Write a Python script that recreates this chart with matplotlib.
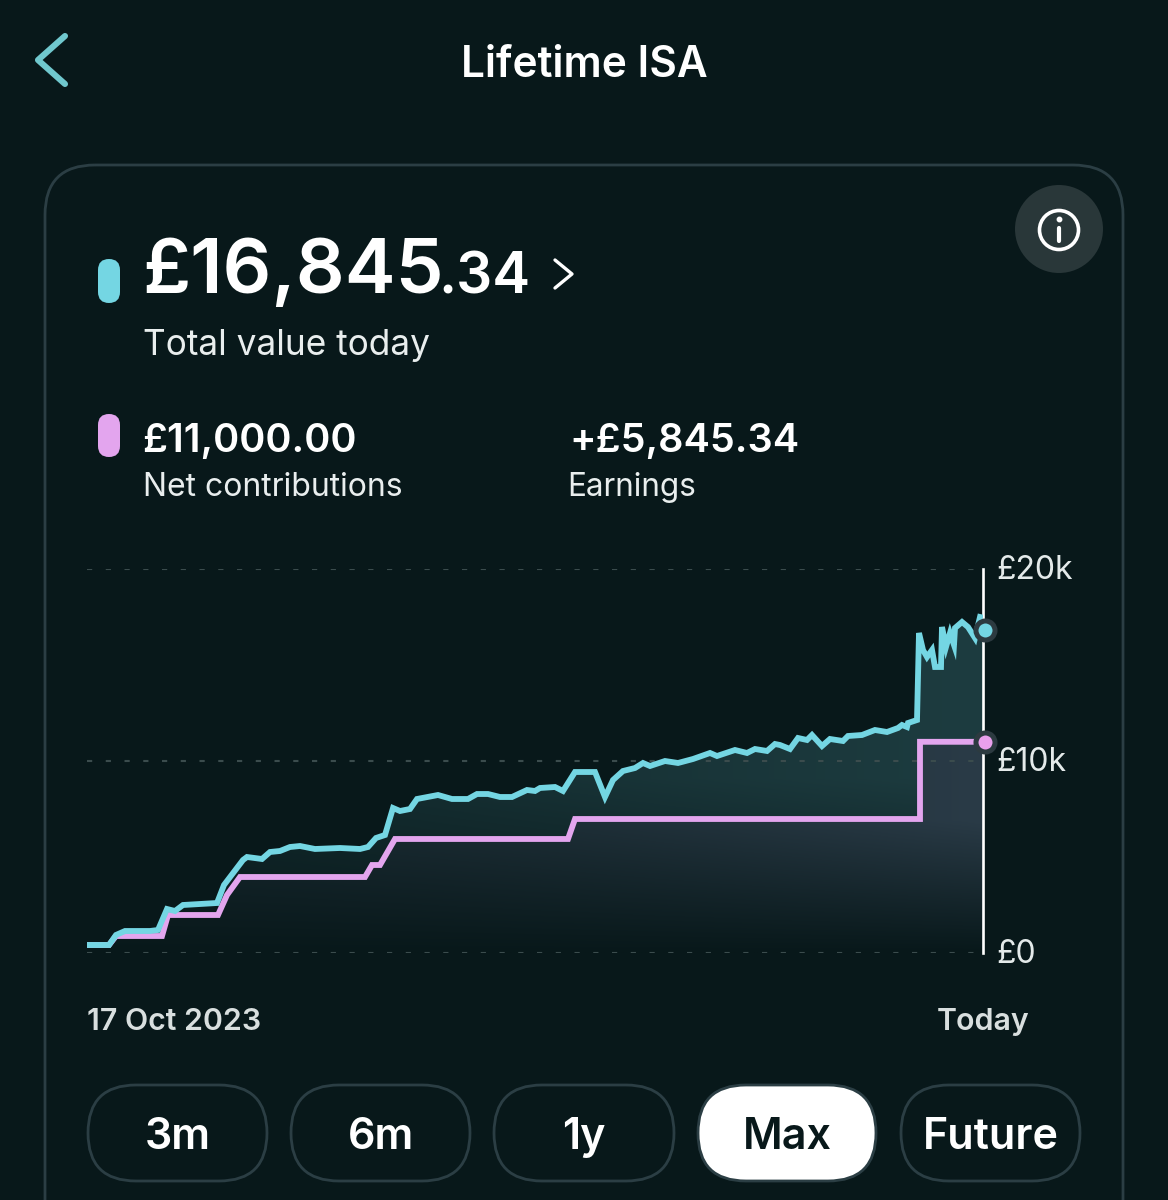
import matplotlib
matplotlib.use("Agg")
import matplotlib.pyplot as plt
from matplotlib.patches import FancyBboxPatch, Circle, Polygon
from matplotlib.transforms import ScaledTranslation
import numpy as np

plt.rcParams['font.family'] = ['Inter', 'DejaVu Sans']

BG = '#08181a'
TEAL = '#74d6e3'
PINK = '#e3a5ee'
W, H = 1168, 1200

# chart data, x is position along the time axis (0 = 17 Oct 2023, 896 = today)
total_x = [0, 22, 29, 38, 63, 71, 80, 88, 96, 113,
           130, 137, 156, 160, 175, 183, 193, 203, 213, 228,
           253, 273, 281, 289, 298, 306, 313, 323, 330, 351,
           365, 381, 390, 401, 413, 425, 440, 448, 453, 468,
           476, 488, 508, 518, 526, 536, 548, 556, 563, 578,
           591, 606, 623, 630, 648, 660, 668, 680, 688, 693,
           703, 711, 720, 725, 735, 743, 756, 761, 775, 788,
           800, 811, 815, 820, 821, 830, 832, 836, 840, 845,
           848, 854, 855, 859, 863, 867, 868, 875, 881, 888, 893]
total_val = [417, 417, 938, 1146, 1146, 1198, 2292, 2187, 2500, 2552,
             2604, 3542, 4844, 5000, 4896, 5260, 5313, 5521, 5573, 5417,
             5469, 5417, 5521, 5990, 6146, 7552, 7396, 7500, 8021, 8229,
             8021, 8021, 8281, 8281, 8125, 8125, 8490, 8438, 8594, 8646,
             8438, 9427, 9427, 8125, 9010, 9479, 9635, 9896, 9740, 10000,
             9896, 10104, 10417, 10260, 10573, 10417, 10625, 10521, 10885, 10833,
             10625, 11198, 11094, 11354, 10781, 11146, 11042, 11302, 11354, 11615,
             11510, 11719, 11875, 11771, 11979, 12135, 16667, 15781, 15417, 15781,
             14896, 14896, 16979, 15937, 16667, 16042, 16927, 17240, 16979, 16406, 17500]
contrib_x = [0, 22, 29, 75, 81, 131, 140, 153, 278, 285, 293, 308, 481, 488, 833, 833, 888]
contrib_val = [417, 417, 885, 885, 1979, 1979, 3021, 3958, 3958, 4583, 4583, 5938, 5938, 6979, 6979, 11000, 11000]

y_ticks = [0, 10000, 20000]
y_tick_labels = ['£0', '£10k', '£20k']
x_ticks = [0, 896]
x_tick_labels = ['17 Oct 2023', 'Today']
range_labels = ['3m', '6m', '1y', 'Max', 'Future']
range_left = [88, 291, 494, 698, 901]
range_right = [267, 470, 674, 876, 1080]
total_now = 16845.34
contrib_now = 11000.0

fig = plt.figure(figsize=(W / 100, H / 100), dpi=100, facecolor=BG)

# UI layer in pixel coordinates
ui = fig.add_axes([0, 0, 1, 1])
ui.set_xlim(0, W)
ui.set_ylim(H, 0)
ui.axis('off')


def txt(x, y, s, size, weight='normal', color='white', ha='left', va='baseline'):
    ui.text(x, y, s, fontsize=size, fontweight=weight, color=color, ha=ha, va=va)


def pill(x0, y0, x1, y1, r, fc, ec='none', lw=0):
    ui.add_patch(FancyBboxPatch((x0 + r, y0 + r), x1 - x0 - 2 * r, y1 - y0 - 2 * r,
                                boxstyle=f'round,pad={r},rounding_size={r}',
                                fc=fc, ec=ec, lw=lw, clip_on=False))


# card
pill(45, 165, 1123, 1300, 50, 'none', '#2b3e44', 2)

# header
ui.plot([65, 38, 65], [36, 60, 84], color='#70c8ce', lw=4.4, solid_capstyle='round', solid_joinstyle='round')
txt(584, 77, 'Lifetime ISA', 30.5, 'semibold', ha='center')

# info button
ui.add_patch(Circle((1059, 229), 44, fc='#293739', ec='none'))
ui.add_patch(Circle((1059, 230), 19.5, fc='none', ec='white', lw=2.6))
ui.plot([1059, 1059], [228, 241], color='white', lw=3, solid_capstyle='round')
ui.plot([1059], [219], 'o', color='white', ms=3.2)

# headline numbers
pill(98, 259, 120, 303, 11, TEAL)
txt(142, 293, '£16,845', 55, 'semibold')
txt(438, 293, '.34', 41, 'semibold')
ui.plot([555, 572, 555], [260, 274, 288], color='white', lw=2.4, solid_capstyle='round', solid_joinstyle='round')
txt(143, 355, 'Total value today', 25.4, color='#e9eeee')

pill(98, 414, 120, 457, 11, PINK)
txt(142, 452, '£11,000.00', 28.5, 'semibold')
txt(143, 496, 'Net contributions', 23, color='#e9eeee')
txt(569, 452, '+£5,845.34', 28.5, 'semibold')
txt(567, 496, 'Earnings', 22.7, color='#e9eeee')

# range buttons
for lab, x0, x1 in zip(range_labels, range_left, range_right):
    active = lab == 'Max'
    pill(x0, 1085, x1, 1181, 48, 'white' if active else 'none', '#2b3e44', 2)
    txt((x0 + x1) / 2, 1149, lab, 31, 'semibold', color=BG if active else 'white', ha='center')

# chart
ax = fig.add_axes([87 / W, (H - 953) / H, 896 / W, 384 / H])
ax.patch.set_alpha(0)
for side in ['top', 'left', 'bottom']:
    ax.spines[side].set_visible(False)
ax.spines['right'].set_color('white')
ax.spines['right'].set_linewidth(1.9)

bg_rgb = np.array(matplotlib.colors.to_rgb(BG))
gy, gx = np.mgrid[1:0:300j, 0:1:300j]


def gradient(color, a):
    c = np.array(matplotlib.colors.to_rgb(color))
    return np.clip(bg_rgb + (c - bg_rgb) * a[..., None], 0, 1)


up_poly = Polygon(list(zip(total_x, total_val)) + [(896, total_val[-1]), (896, 0), (0, 0)],
                  transform=ax.transData)
low_poly = Polygon(list(zip(contrib_x, contrib_val)) + [(896, contrib_val[-1]), (896, 0), (0, 0)],
                   transform=ax.transData)
upper = ax.imshow(gradient('#1d3c40', (0.4 + 0.6 * gx) * np.clip(gy * 2.2, 0, 1)),
                  extent=[0, 896, 0, 20000], aspect='auto', zorder=1)
upper.set_clip_path(up_poly)
lower = ax.imshow(gradient('#2a3b47', (0.42 + 0.58 * gx ** 1.5) * np.clip(gy * 2.9, 0, 1)),
                  extent=[0, 896, 0, 20000], aspect='auto', zorder=1.1)
lower.set_clip_path(low_poly)
ax.set_xlim(0, 896)
ax.set_ylim(0, 20000)

ax.yaxis.tick_right()
ax.set_yticks(y_ticks, y_tick_labels)
ax.set_xticks(x_ticks, x_tick_labels)
ax.tick_params(axis='y', length=0, pad=9.5, labelsize=23, labelcolor='#e4eaea')
ax.tick_params(axis='x', length=0, pad=39.5, labelsize=21.8, labelcolor='#d9dfdf')
for lab in ax.get_xticklabels():
    lab.set_fontweight('semibold')
ax.get_xticklabels()[0].set_ha('left')
ax.get_xticklabels()[1].set_ha('center')
up_shift = ScaledTranslation(0, 2 / 100, fig.dpi_scale_trans)
for lab in ax.get_yticklabels():
    lab.set_transform(lab.get_transform() + up_shift)
ax.grid(axis='y', color='#3b4c4d', lw=1.5, ls=(0, (2.5, 6.5)), zorder=1.5)
ax.set_axisbelow(False)

ax.plot(contrib_x, contrib_val, color=PINK, lw=4.2, solid_joinstyle='miter', zorder=3)
ax.plot(total_x, total_val, color=TEAL, lw=4.2, solid_joinstyle='miter', zorder=4)

# end markers
ax.plot([898], [contrib_now], 'o', ms=13.7, mfc='#e9a0ec', mec='#2c3a40', mew=3.6, clip_on=False, zorder=6)
ax.plot([898], [total_now], 'o', ms=13.7, mfc=TEAL, mec='#2c3a40', mew=3.6, clip_on=False, zorder=6)

fig.savefig('out.png', dpi=100, facecolor=BG)
